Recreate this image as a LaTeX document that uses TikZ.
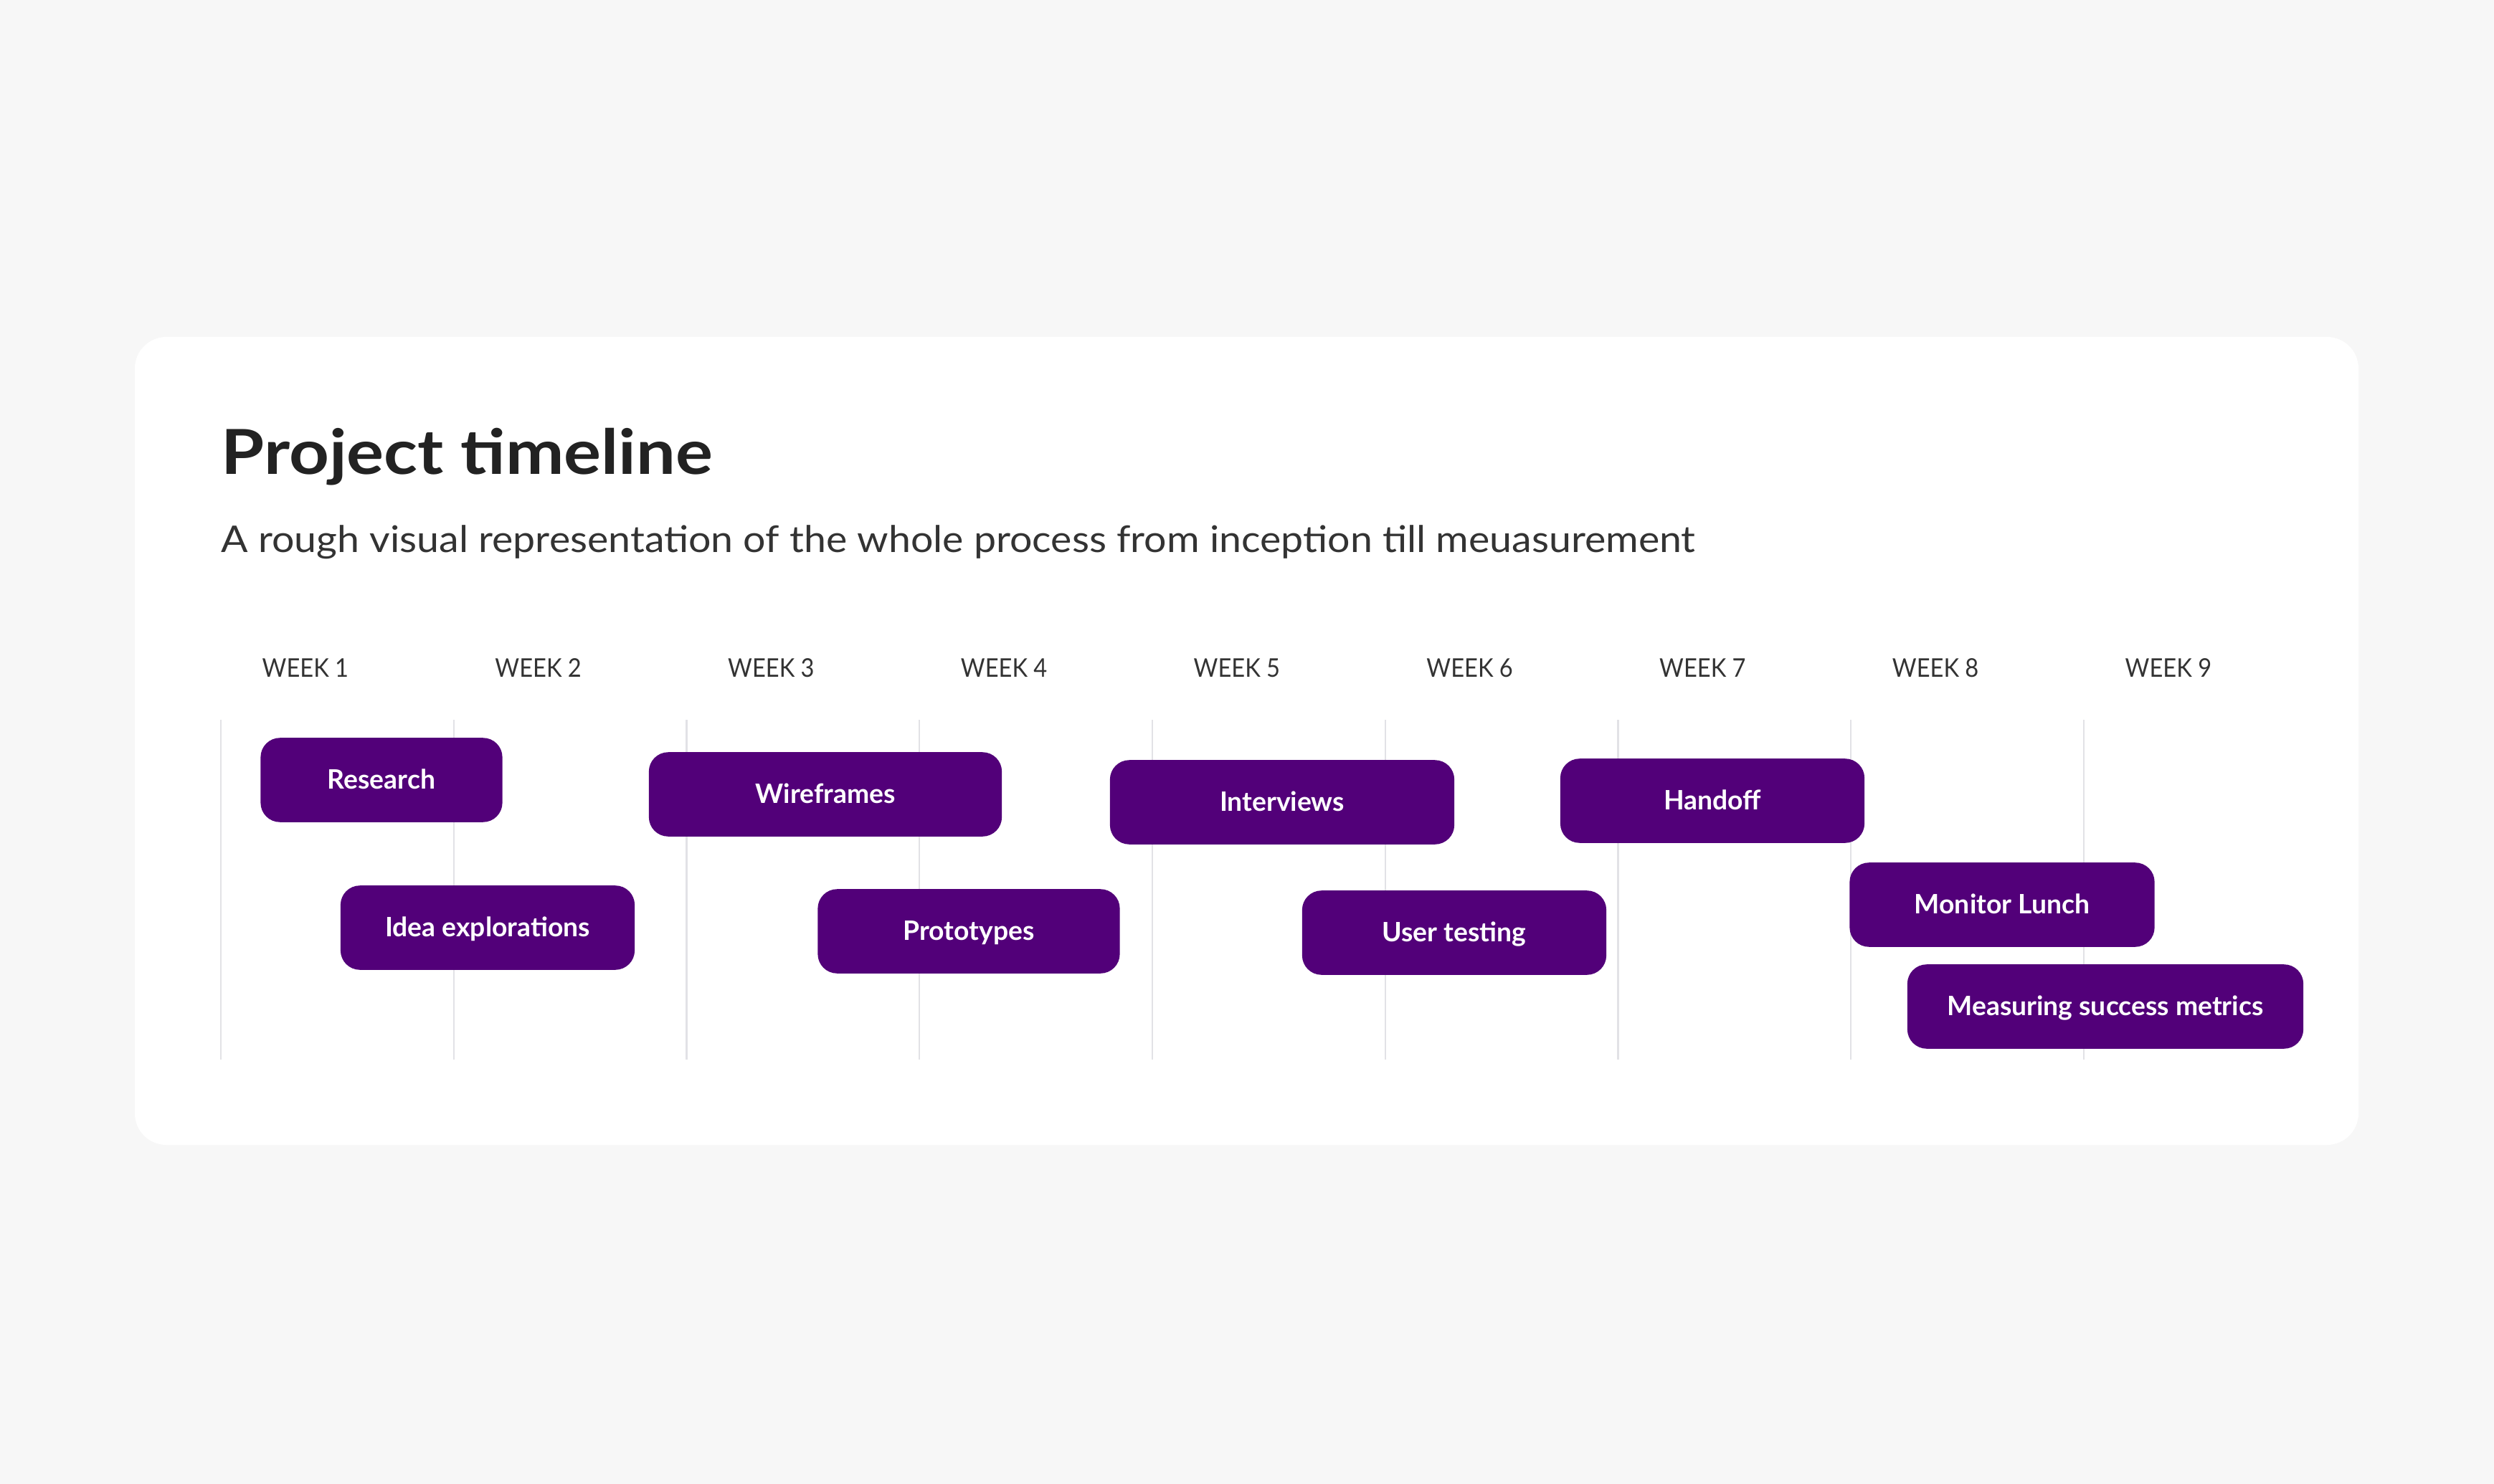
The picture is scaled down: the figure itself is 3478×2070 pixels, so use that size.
\documentclass[tikz,border=0pt]{standalone}
\usepackage{fontspec}
\setmainfont{Lato}
\IfFontExistsTF{Lato Black}
  {\newfontfamily\titlefont[FakeStretch=1.125]{Lato Black}}
  {\newfontfamily\titlefont[FakeStretch=1.12]{Lato}}
\newfontfamily\widefont[FakeStretch=1.08]{Lato}
\newfontfamily\weekfont[FakeStretch=0.91]{Lato}
\definecolor{pagebg}{HTML}{F7F7F7}
\definecolor{barpurple}{HTML}{520079}
\definecolor{inkdark}{HTML}{222222}
\definecolor{inksoft}{HTML}{333333}
\definecolor{gridgray}{HTML}{E2E2E6}
\begin{document}
\begin{tikzpicture}[x=0.01cm,y=-0.01cm,
  bar/.style={fill=barpurple,rounded corners=0.27cm,text=white,
    font=\fontsize{10.6}{12}\selectfont\bfseries,
    minimum height=1.175cm,inner sep=0pt,text height=0.72em,text depth=0pt},
  week/.style={anchor=base west,text=inksoft,font=\weekfont\fontsize{10.2}{12}\selectfont,inner sep=0pt}]
% Page and card
\fill[pagebg] (0,0) rectangle (3478,2070);
\useasboundingbox (0,0) rectangle (3478,2070);
\fill[white,rounded corners=0.44cm] (188,470) rectangle (3289,1597);

% Heading
\node[anchor=base west,inner sep=0pt,text=inkdark,font=\titlefont\fontsize{24.6}{28}\selectfont\bfseries]
  (title) at (308,662) {Project timeline};
\node[anchor=base west,inner sep=0pt,text=inksoft,font=\widefont\fontsize{14.6}{18}\selectfont]
  (subtitle) at (308,770) {A rough visual representation of the whole process from inception till meuasurement};

% Grid
\foreach \i in {0,1,...,8}
  \draw[gridgray,line width=0.6pt] (308+\i*324.75,1004) -- (308+\i*324.75,1478);

% Week labels
\foreach \i [evaluate=\i as \n using int(\i+1)] in {0,1,...,8}
  \node[week] (week\n) at (365+\i*324.75,944) {WEEK \n};

% Tasks
\node[bar,minimum width=3.37cm] (research) at (532,1088) {Research};
\node[bar,minimum width=4.10cm] (ideas) at (680,1294) {Idea explorations};
\node[bar,minimum width=4.92cm] (wireframes) at (1151,1108) {Wireframes};
\node[bar,minimum width=4.21cm] (prototypes) at (1351,1299) {Prototypes};
\node[bar,minimum width=4.80cm] (interviews) at (1788,1119) {Interviews};
\node[bar,minimum width=4.24cm] (testing) at (2028,1301) {User testing};
\node[bar,minimum width=4.24cm] (handoff) at (2388,1117) {Handoff};
\node[bar,minimum width=4.25cm] (monitor) at (2792,1262) {Monitor Lunch};
\node[bar,minimum width=5.52cm] (metrics) at (2936,1404) {Measuring success metrics};

\end{tikzpicture}
\end{document}
